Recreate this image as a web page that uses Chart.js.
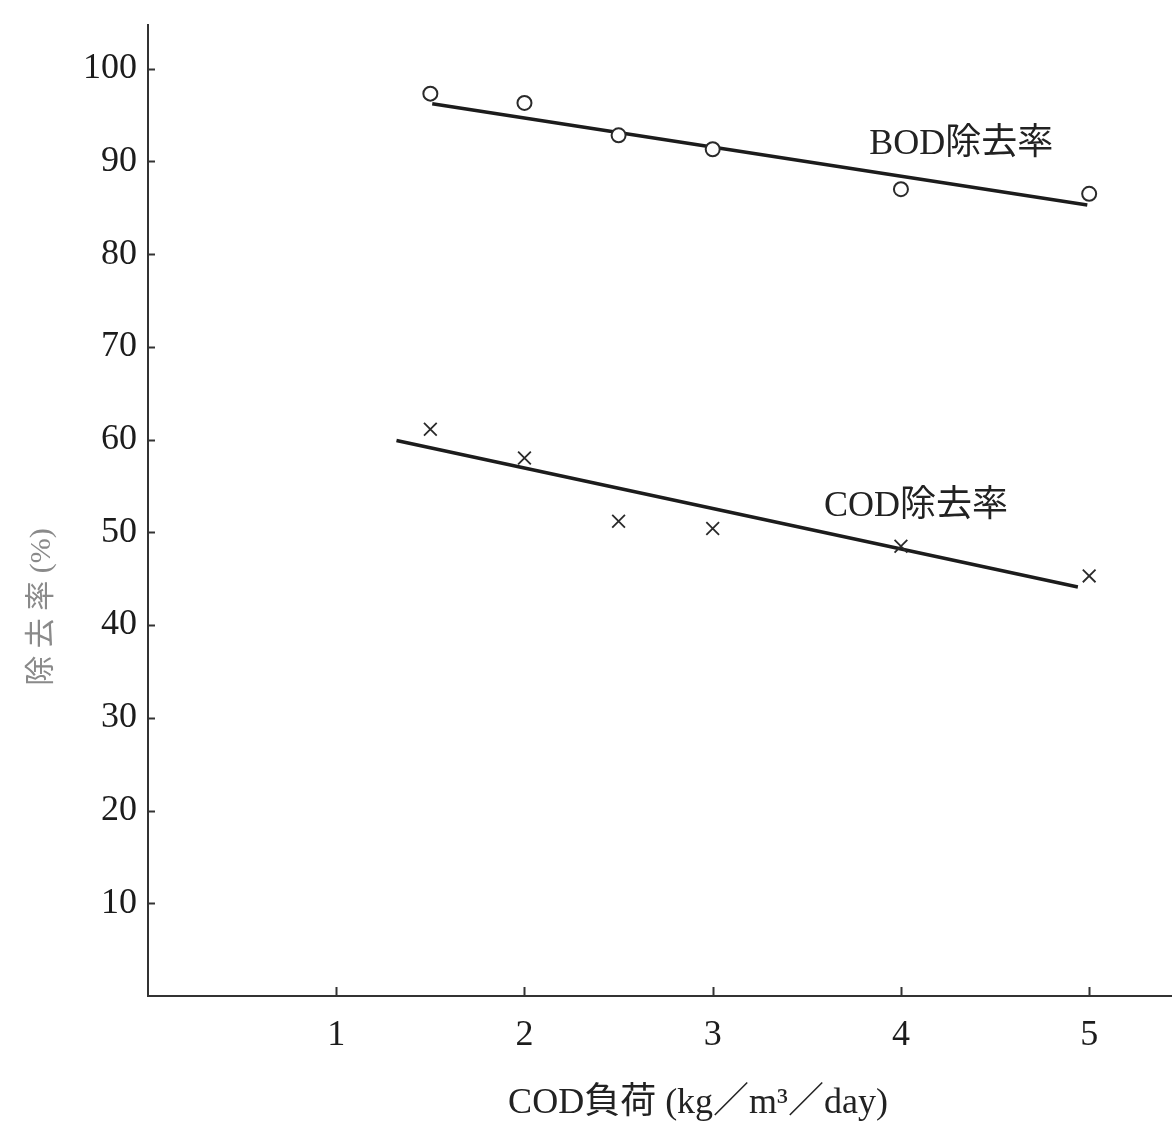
<!DOCTYPE html>
<html lang="ja">
<head>
<meta charset="UTF-8">
<title>COD負荷と除去率</title>
<script src="https://cdn.jsdelivr.net/npm/chart.js@4.4.1/dist/chart.umd.min.js"></script>
<style>
  body { margin: 0; background: #fff; }
</style>
</head>
<body>
<canvas id="chart" width="1172" height="1125"></canvas>
<script>
// COD負荷 (kg/m3/day)
var codLoad = [1.5, 2, 2.5, 3, 4, 5];
// 除去率 (%)
var bodRemoval = [97.3, 96.3, 92.8, 91.3, 87.0, 86.5];
var codRemoval = [61.1, 58.0, 51.2, 50.4, 48.5, 45.3];
// 回帰直線の両端
var bodFitX = [1.51, 4.99];
var bodFitY = [96.2, 85.3];
var codFitX = [1.32, 4.94];
var codFitY = [59.9, 44.1];
// 目盛
var xTicks = [1, 2, 3, 4, 5];
var yTicks = [10, 20, 30, 40, 50, 60, 70, 80, 90, 100];

var SERIF = "'Liberation Serif', 'Noto Sans CJK JP', serif";
var INK = '#1c1c1c';

function pts(xs, ys) {
  return xs.map(function (x, i) { return { x: x, y: ys[i] }; });
}

// 系列名（データ座標で置く）
var seriesNotes = [
  { text: 'BOD除去率', x: 4.32, y: 91.8 },
  { text: 'COD除去率', x: 4.08, y: 52.8 }
];

var paperPlugin = {
  id: 'paper',
  afterDraw: function (chart) {
    var ctx = chart.ctx;
    var xs = chart.scales.x, ys = chart.scales.y;
    var area = chart.chartArea;
    ctx.save();
    // 内向きの目盛線
    ctx.strokeStyle = '#333';
    ctx.lineWidth = 2;
    yTicks.forEach(function (v) {
      var py = Math.round(ys.getPixelForValue(v)) + 0.5;
      ctx.beginPath();
      ctx.moveTo(area.left, py);
      ctx.lineTo(area.left + 7, py);
      ctx.stroke();
    });
    xTicks.forEach(function (v) {
      var px = Math.round(xs.getPixelForValue(v)) + 0.5;
      ctx.beginPath();
      ctx.moveTo(px, area.bottom);
      ctx.lineTo(px, area.bottom - 9);
      ctx.stroke();
    });
    // 系列名
    ctx.fillStyle = '#222';
    ctx.font = '36px ' + SERIF;
    ctx.textAlign = 'center';
    ctx.textBaseline = 'middle';
    seriesNotes.forEach(function (n) {
      ctx.fillText(n.text, xs.getPixelForValue(n.x), ys.getPixelForValue(n.y));
    });
    // 横軸タイトル
    ctx.font = '36px ' + SERIF;
    ctx.fillText('COD負荷 (kg／m³／day)', 698, 1104);
    // 縦軸タイトル
    ctx.translate(42, 607);
    ctx.rotate(-Math.PI / 2);
    ctx.fillStyle = '#8a8a8a';
    ctx.font = '30px ' + SERIF;
    ctx.fillText('除 去 率 (%)', 0, 0);
    ctx.restore();
  }
};

var ctx = document.getElementById('chart').getContext('2d');
var chart = new Chart(ctx, {
  type: 'scatter',
  data: {
    datasets: [
      {
        label: 'BOD除去率',
        data: pts(codLoad, bodRemoval),
        pointStyle: 'circle',
        pointRadius: 7,
        pointBorderWidth: 2,
        pointBackgroundColor: '#fff',
        pointBorderColor: '#2a2a2a',
        order: 0
      },
      {
        label: 'COD除去率',
        data: pts(codLoad, codRemoval),
        pointStyle: 'crossRot',
        pointRadius: 9,
        pointBorderWidth: 1.8,
        pointBorderColor: '#2a2a2a',
        order: 0
      },
      {
        label: 'BOD fit',
        type: 'line',
        data: pts(bodFitX, bodFitY),
        borderColor: INK,
        borderWidth: 3.5,
        pointRadius: 0,
        order: 1
      },
      {
        label: 'COD fit',
        type: 'line',
        data: pts(codFitX, codFitY),
        borderColor: INK,
        borderWidth: 3.5,
        pointRadius: 0,
        order: 1
      }
    ]
  },
  options: {
    responsive: false,
    animation: false,
    layout: { autoPadding: false, padding: { top: 25, right: 0, left: 0, bottom: 0 } },
    plugins: {
      legend: { display: false },
      tooltip: { enabled: false }
    },
    scales: {
      x: {
        type: 'linear',
        min: 0,
        max: 5.44,
        afterBuildTicks: function (s) { s.ticks = xTicks.map(function (v) { return { value: v }; }); },
        afterFit: function (s) {
          s.height = 129;
          s.paddingLeft = 0;
          s.paddingRight = 0;
        },
        grid: { display: true, drawOnChartArea: false, drawTicks: false },
        border: { display: true, color: '#333', width: 2 },
        ticks: {
          color: INK,
          padding: 18,
          maxRotation: 0,
          font: { family: SERIF, size: 36 }
        }
      },
      y: {
        type: 'linear',
        min: 0,
        max: 104.7,
        afterBuildTicks: function (s) { s.ticks = yTicks.map(function (v) { return { value: v }; }); },
        afterFit: function (s) {
          s.width = 148;
          s.paddingTop = 0;
          s.paddingBottom = 0;
        },
        grid: { display: true, drawOnChartArea: false, drawTicks: false },
        border: { display: true, color: '#333', width: 2 },
        ticks: {
          color: INK,
          padding: 11,
          font: { family: SERIF, size: 36 }
        }
      }
    }
  },
  plugins: [paperPlugin]
});
</script>
</body>
</html>
